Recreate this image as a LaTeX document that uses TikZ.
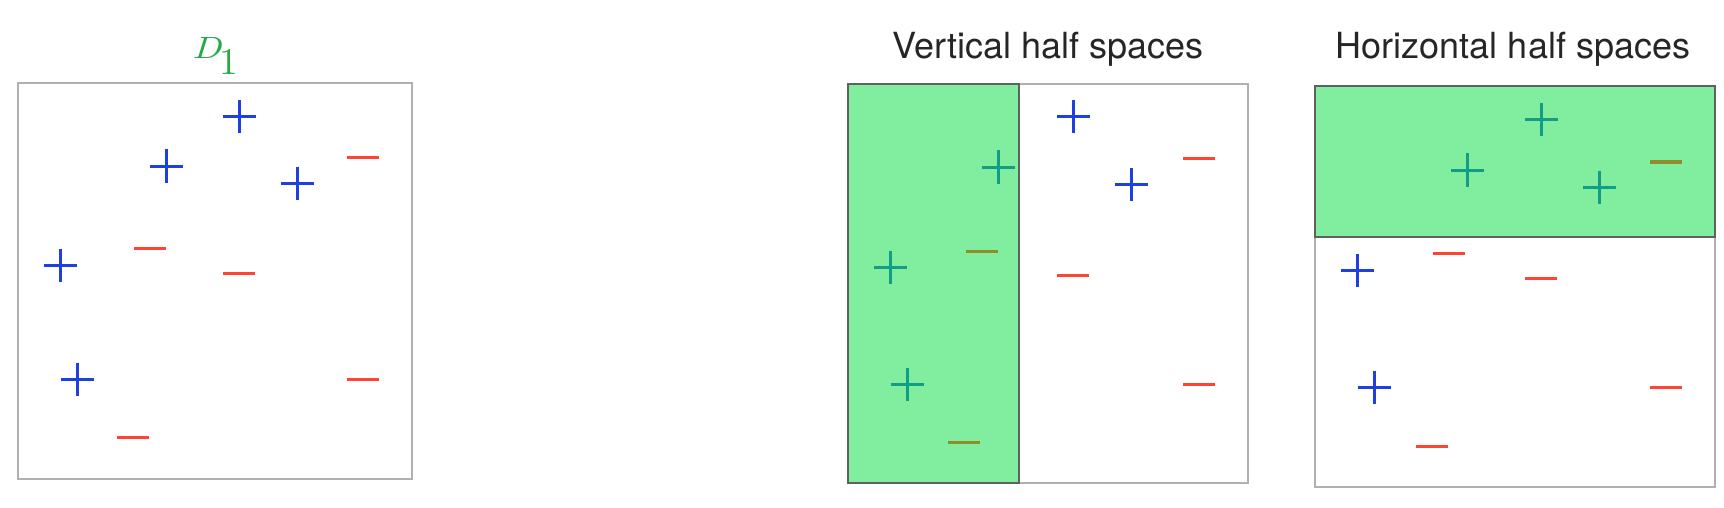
\documentclass[tikz,border=0pt]{standalone}
\usepackage{graphicx}
\usepackage{fontspec}
\newfontfamily\titlefont{TeX Gyre Heros}
\definecolor{pblue}{HTML}{1F3FE0}
\definecolor{pred}{HTML}{FF4433}
\definecolor{pteal}{HTML}{139C86}
\definecolor{polive}{HTML}{8E8E2C}
\definecolor{gfill}{HTML}{80EE9E}
\definecolor{frame}{HTML}{B0B0B0}
\definecolor{gframe}{HTML}{606060}
\definecolor{dgreen}{HTML}{22AA44}
\newcommand\pplus[3]{\draw[mark line,#3] (#1-16.5,-#2) -- (#1+16.5,-#2) (#1,-#2+16.5) -- (#1,-#2-16.5);}
\newcommand\pminus[3]{\draw[mark line,#3] (#1-16,-#2) -- (#1+16,-#2);}
\begin{document}
\begin{tikzpicture}[x=1pt,y=1pt,
  mark line/.style={line width=3pt},
  panel/.style={draw=frame,line width=2pt},
  halfbox/.style={fill=gfill,draw=gframe,line width=1.5pt},
  ptitle/.style={font=\titlefont\fontsize{36}{40}\selectfont,text=black!85,anchor=base,inner sep=0pt}]
\useasboundingbox (0,0) rectangle (1724,-508);
% panel 1
\draw[panel] (18,-83) rectangle (412,-479);
\node[text=dgreen,anchor=south west,inner sep=0pt] (d1) at (192,-59) {\resizebox{29pt}{21pt}{\itshape D}};
\node[text=dgreen,anchor=south west,inner sep=0pt] (d1s) at (219,-75) {\resizebox{!}{25pt}{1}};
\pplus{239}{117}{pblue}
\pplus{166}{166}{pblue}
\pplus{297}{183}{pblue}
\pplus{60}{265}{pblue}
\pplus{77}{379}{pblue}
\pminus{363}{158}{pred}
\pminus{150}{248}{pred}
\pminus{239}{273}{pred}
\pminus{363}{379}{pred}
\pminus{133}{437}{pred}
% panel 2
\draw[panel] (848,-84) rectangle (1248,-483);
\draw[halfbox] (848,-84) rectangle (1019,-483);
\node[ptitle] (t2) at (1048,-59) {Vertical half spaces};
\pplus{1073}{117}{pblue}
\pplus{998}{167}{pteal}
\pplus{1131}{184}{pblue}
\pplus{890}{267}{pteal}
\pplus{907}{384}{pteal}
\pminus{1199}{159}{pred}
\pminus{982}{251}{polive}
\pminus{1073}{275}{pred}
\pminus{1199}{384}{pred}
\pminus{964}{442}{polive}
% panel 3
\draw[panel] (1315,-86) rectangle (1715,-487);
\draw[halfbox] (1315,-86) rectangle (1715,-237);
\node[ptitle] (t3) at (1513,-59) {Horizontal half spaces};
\pplus{1541}{120}{pteal}
\pplus{1467}{170}{pteal}
\pplus{1599}{187}{pteal}
\pplus{1357}{270}{pblue}
\pplus{1374}{387}{pblue}
\pminus{1666}{162}{polive}
\pminus{1449}{253}{pred}
\pminus{1541}{278}{pred}
\pminus{1666}{387}{pred}
\pminus{1432}{446}{pred}
\end{tikzpicture}
\end{document}
